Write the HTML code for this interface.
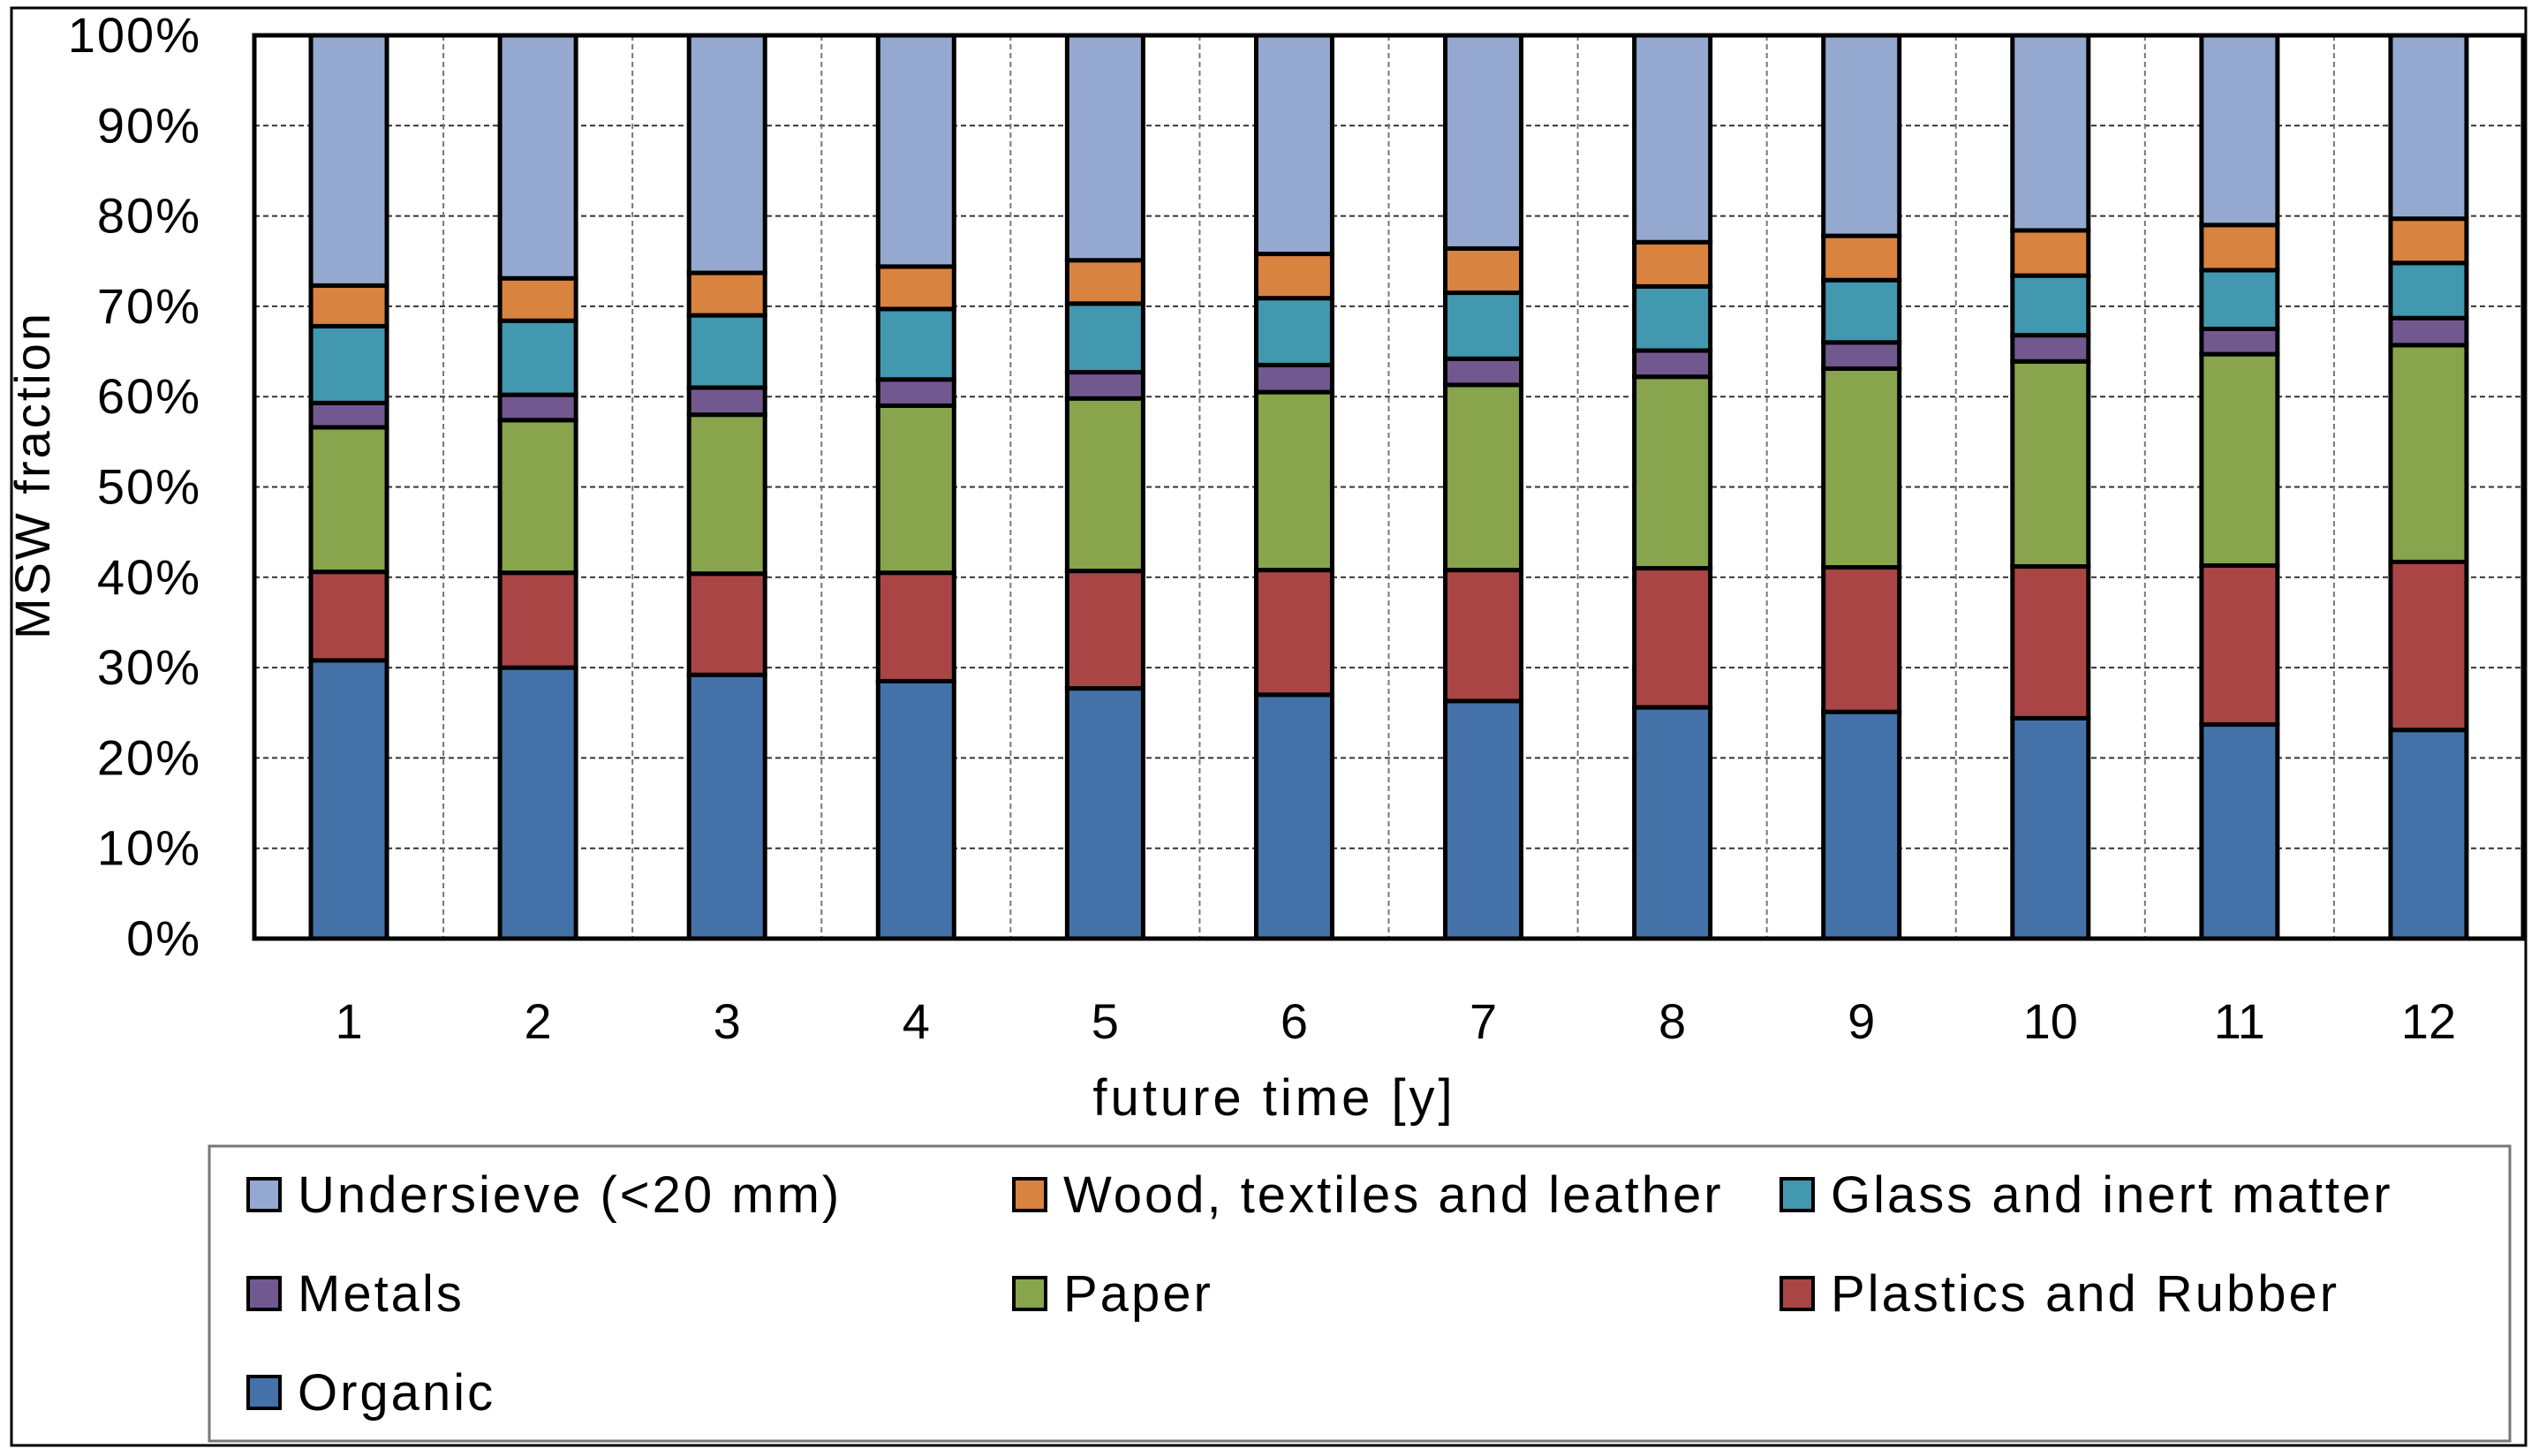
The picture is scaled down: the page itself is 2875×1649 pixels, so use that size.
<!DOCTYPE html>
<html><head><meta charset="utf-8"><style>
html,body{margin:0;padding:0;background:#fff;}
svg{display:block;font-family:"Liberation Sans",sans-serif;}
</style></head><body>
<svg id="chart" width="2875" height="1649" viewBox="0 0 2875 1649" xmlns="http://www.w3.org/2000/svg">
<rect x="13" y="9" width="2847" height="1628" fill="#fff" stroke="#000" stroke-width="3"/>
<g id="grid"></g>
<g id="bars"></g>
<g id="yticks"></g>
<g id="xticks"></g>
<rect x="288" y="40" width="2569" height="1023" fill="none" stroke="#000" stroke-width="5"/>
<text transform="translate(56,538) rotate(-90)" text-anchor="middle" font-size="56" letter-spacing="3" fill="#000">MSW fraction</text>
<text x="1443" y="1263" text-anchor="middle" font-size="58" letter-spacing="4" fill="#000">future time [y]</text>
<rect x="237" y="1298" width="2605" height="334" fill="#fff" stroke="#777" stroke-width="3"/>
<g id="legend"></g>
</svg>
<script>
const categories = ["1","2","3","4","5","6","7","8","9","10","11","12"];
const seriesNames = ["Organic","Plastics and Rubber","Paper","Metals","Glass and inert matter","Wood, textiles and leather","Undersieve (<20 mm)"];
const organic = [30.8,30.0,29.2,28.5,27.7,27.0,26.3,25.6,25.1,24.4,23.7,23.1];
const plastics = [9.8,10.5,11.2,12.0,13.0,13.8,14.5,15.4,16.0,16.8,17.6,18.6];
const paper = [16.0,16.9,17.6,18.5,19.1,19.7,20.5,21.2,22.0,22.7,23.4,24.0];
const metals = [2.7,2.8,3.0,2.9,2.9,3.0,2.9,2.9,2.9,2.9,2.8,3.0];
const glass = [8.5,8.2,8.0,7.8,7.6,7.4,7.3,7.1,6.9,6.6,6.5,6.1];
const wood = [4.5,4.7,4.7,4.7,4.8,4.9,4.9,4.9,4.9,5.0,5.0,4.9];
const undersieve = [27.7,26.9,26.3,25.6,24.9,24.2,23.6,22.9,22.2,21.6,21.0,20.3];
const yTicks = [0,10,20,30,40,50,60,70,80,90,100];

const NS="http://www.w3.org/2000/svg";
const colors=["#4472a8","#a94645","#88a44d","#71598f","#4298ae","#d98340","#95a9d0"];
const slugs=["organic","plastics","paper","metals","glass","wood","undersieve"];
const series=[organic,plastics,paper,metals,glass,wood,undersieve];
const L=288,R=2857,T=40,B=1063;
const bw=(R-L)/categories.length;
const y=v=>B-(v/100)*(B-T);
const xc=i=>L+bw*(i+0.5);
function mk(tag,attrs,parent){const e=document.createElementNS(NS,tag);for(const k in attrs)e.setAttribute(k,attrs[k]);parent.appendChild(e);return e;}
const grid=document.getElementById('grid');
yTicks.forEach(t=>{
  if(t===0||t===100)return;
  const l=mk('line',{x1:L,x2:R,y1:y(t),y2:y(t),stroke:'#333','stroke-width':2,'stroke-dasharray':'6,4'},grid);
  
  
});
for(let i=1;i<categories.length;i++){
  const l=mk('line',{x1:L+bw*i,x2:L+bw*i,y1:T,y2:B,stroke:'#777','stroke-width':2,'stroke-dasharray':'6,4'},grid);
  
  
}
const bars=document.getElementById('bars');
const barW=86;
categories.forEach((c,i)=>{
  let cum=0;
  series.forEach((s,k)=>{
    const v=s[i];
    const r=mk('rect',{x:xc(i)-barW/2,y:y(cum+v),width:barW,height:y(cum)-y(cum+v),fill:colors[k],stroke:'#000','stroke-width':5},bars);
    
    
    cum+=v;
  });
});
const yt=document.getElementById('yticks');
yTicks.forEach(t=>{
  const tx=mk('text',{x:228,y:y(t)+19,'text-anchor':'end','font-size':56,'letter-spacing':2,fill:'#000'},yt);
  tx.textContent=t+'%';
  
  
});
const xt=document.getElementById('xticks');
categories.forEach((c,i)=>{
  const tx=mk('text',{x:xc(i),y:1176,'text-anchor':'middle','font-size':56,fill:'#000'},xt);
  tx.textContent=c;
  
  
});
const lg=document.getElementById('legend');
const order=[6,5,4,3,2,1,0];
const cols=[281,1148,2017], rows=[1353,1465,1577];
order.forEach((k,j)=>{
  const cx=cols[j%3], cy=rows[Math.floor(j/3)];
  const g=mk('g',{},lg);
  
  
  mk('rect',{x:cx,y:cy-18,width:36,height:36,fill:colors[k],stroke:'#000','stroke-width':4},g);
  const tx=mk('text',{x:cx+56,y:cy+20,'font-size':58,'letter-spacing':3,fill:'#000'},g);
  tx.textContent=seriesNames[k];
});
</script>
</body></html>
